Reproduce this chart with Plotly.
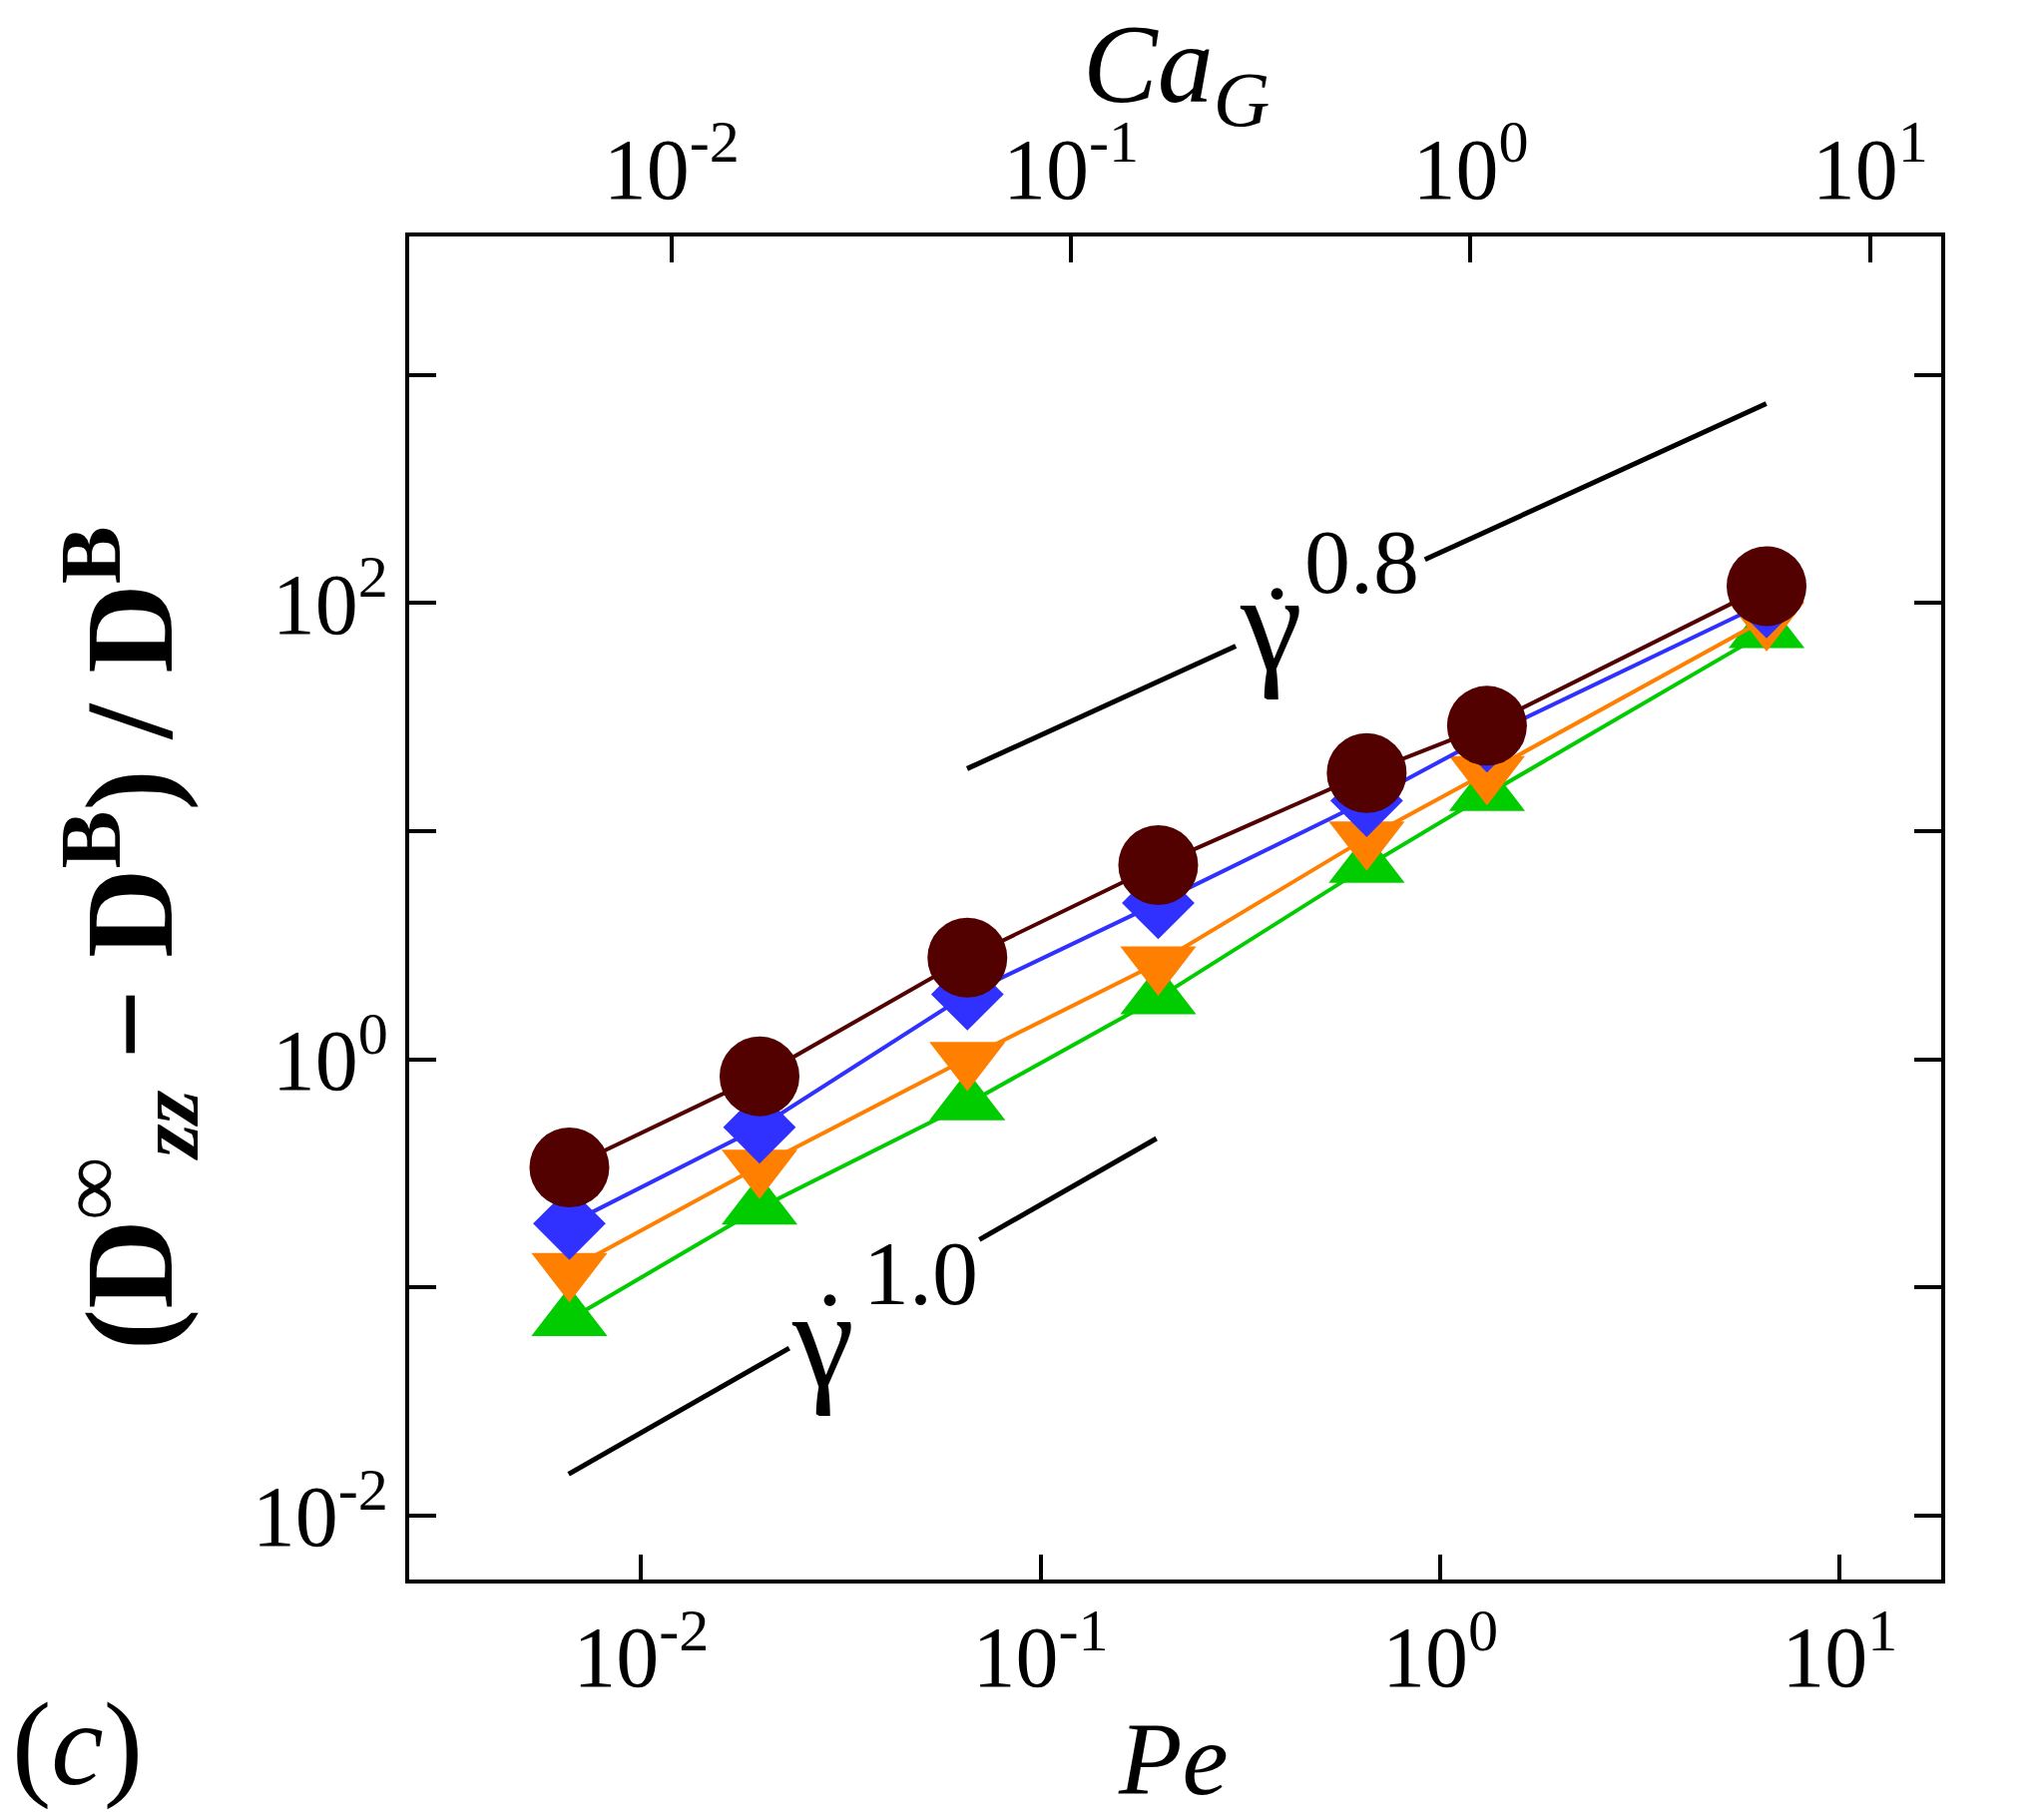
import math
import plotly.graph_objects as go

# ---- data ----
pe = [0.00662, 0.0198, 0.0656, 0.197, 0.655, 1.31, 6.56]
circle_vals = [0.336, 0.843, 2.79, 7.10, 18.0, 29.0, 118.7]     # dark red circles
diamond_vals = [0.1905, 0.504, 1.93, 4.85, 13.6, 26.1, 101.0]   # blue diamonds
tridown_vals = [0.120, 0.340, 1.01, 2.65, 9.36, 18.1, 85.4]     # orange down-triangles
triup_vals = [0.0723, 0.223, 0.639, 1.86, 7.01, 14.5, 74.9]     # green up-triangles

# Ca_G / Pe ratio (offset between the top and bottom axes)
cag_per_pe = 0.839

# guide lines (power laws): segments with a gap for the label
g08_exp = 0.8
g08_anchor = (0.0655, 18.8)
g08_seg1 = [0.0655, 0.308]
g08_seg2 = [0.916, 6.55]
g10_exp = 1.0
g10_anchor = (0.00659, 0.0152)
g10_seg1 = [0.00659, 0.0235]
g10_seg2 = [0.0703, 0.195]

x_ticks = [0.01, 0.1, 1, 10]
x_ticktext = ["10<sup>-2</sup>", "10<sup>-1</sup>", "10<sup>0</sup>", "10<sup>1</sup>"]
y_ticks = [0.01, 0.1, 1, 10, 100, 1000]
y_ticktext = ["10<sup>-2</sup>", "", "10<sup>0</sup>", "", "10<sup>2</sup>", ""]

FONT = "Liberation Serif"

fig = go.Figure()

series = [
    (triup_vals, "#00cc00", "triangle-up", 66),
    (tridown_vals, "#ff8000", "triangle-down", 66),
    (diamond_vals, "#3030ff", "diamond", 56),
    (circle_vals, "#520000", "circle", 80),
]
for vals, col, sym, sz in series:
    fig.add_trace(go.Scatter(
        x=pe, y=vals, mode="lines+markers",
        line=dict(color=col, width=4),
        marker=dict(symbol=sym, size=sz, color=col, line=dict(width=0)),
        showlegend=False))

def guide(seg, anchor, expo):
    x0, y0 = anchor
    return [y0 * (x / x0) ** expo for x in seg]

for seg, anchor, expo in [(g08_seg1, g08_anchor, g08_exp), (g08_seg2, g08_anchor, g08_exp),
                          (g10_seg1, g10_anchor, g10_exp), (g10_seg2, g10_anchor, g10_exp)]:
    fig.add_trace(go.Scatter(x=seg, y=guide(seg, anchor, expo), mode="lines",
                             line=dict(color="black", width=5), showlegend=False))

# invisible trace so that the top (Ca_G) axis is drawn
fig.add_trace(go.Scatter(x=[p * cag_per_pe for p in pe], y=circle_vals, xaxis="x2",
                         mode="markers", marker=dict(opacity=0), hoverinfo="skip",
                         showlegend=False))

xr = [-2.580, 1.254]
off = math.log10(cag_per_pe)
xr2 = [xr[0] + off, xr[1] + off]

axis_common = dict(
    type="log", showgrid=False, zeroline=False, showline=True, linewidth=4,
    linecolor="black", ticks="inside", tickwidth=4, tickcolor="black",
    tickfont=dict(family=FONT, size=86, color="black"),
)

fig.update_layout(
    width=2048, height=1821,
    margin=dict(l=410, r=103, t=237, b=238),
    paper_bgcolor="white", plot_bgcolor="white",
    xaxis=dict(range=xr, tickvals=x_ticks, ticktext=x_ticktext, ticklen=25,
               mirror=False, **axis_common),
    xaxis2=dict(range=xr2, tickvals=x_ticks, ticktext=x_ticktext, ticklen=26,
                overlaying="x", side="top", anchor="y", **axis_common),
    yaxis=dict(range=[-2.280, 3.607], tickvals=y_ticks, ticktext=y_ticktext,
               ticklen=27, mirror="ticks", **axis_common),
    font=dict(family=FONT, color="black"),
)

annots = [
    dict(text="<i>Ca<sub>G</sub></i>", xref="paper", yref="paper",
         x=(1178 - 410) / 1535, y=(1583 - 72) / 1346, font=dict(size=112)),
    dict(text="<i>Pe</i>", xref="paper", yref="paper",
         x=(1175 - 410) / 1535, y=(1583 - 1762) / 1346, font=dict(size=104)),
    dict(text="(<i>c</i>)", xref="paper", yref="paper",
         x=(77 - 410) / 1535, y=(1583 - 1748) / 1346, font=dict(size=118)),
    dict(text="<b>(D<sup>∞</sup><sub><i>zz</i></sub> − D<sup>B</sup>) / D<sup>B</sup></b>",
         xref="paper", yref="paper", textangle=-90,
         x=(130 - 410) / 1535, y=(1583 - 940) / 1346, font=dict(size=124)),
    # gamma-dot ^ 0.8 label
    dict(text="γ", xref="x", yref="y", x=-0.424, y=1.916, font=dict(size=140)),
    dict(text=".", xref="x", yref="y", x=-0.409, y=2.165, font=dict(size=100)),
    dict(text="0.8", xref="x", yref="y", x=-0.197, y=2.182, font=dict(size=92)),
    # gamma-dot ^ 1.0 label
    dict(text="γ", xref="x", yref="y", x=-1.545, y=-1.225, font=dict(size=140)),
    dict(text=".", xref="x", yref="y", x=-1.527, y=-0.930, font=dict(size=100)),
    dict(text="1.0", xref="x", yref="y", x=-1.300, y=-0.936, font=dict(size=92)),
]
for a in annots:
    a.setdefault("showarrow", False)
    a.setdefault("xanchor", "center")
    a.setdefault("yanchor", "middle")
    a["font"].update(family=FONT, color="black")
    fig.add_annotation(**a)

fig.write_html("out.html")
